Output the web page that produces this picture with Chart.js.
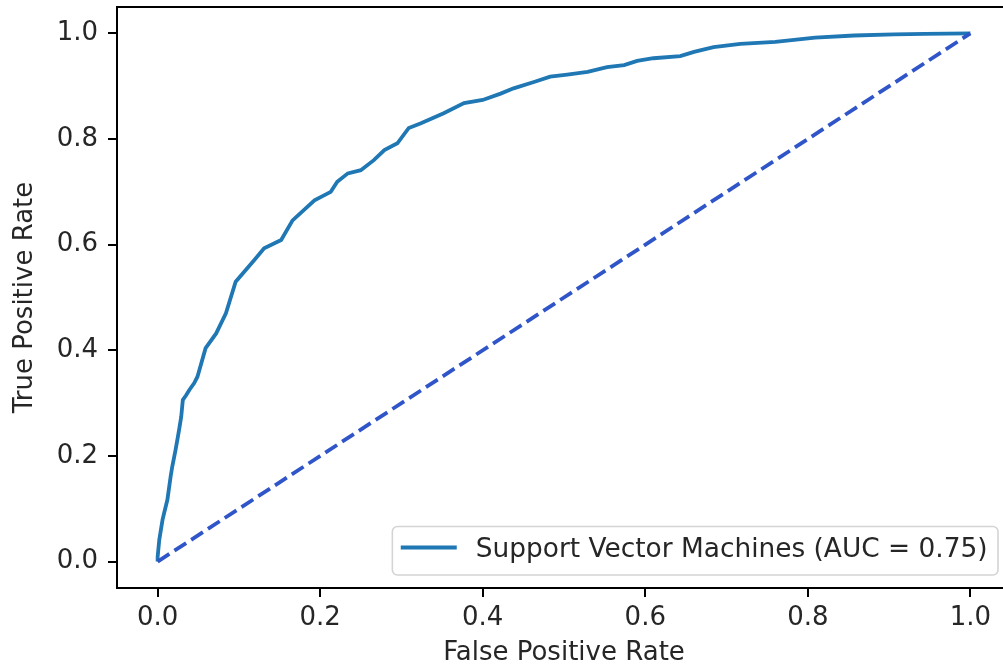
<!DOCTYPE html>
<html>
<head>
<meta charset="utf-8">
<script src="https://cdn.jsdelivr.net/npm/chart.js@4/dist/chart.umd.min.js"></script>
<style>
  html, body { margin: 0; padding: 0; background: #fff; overflow: hidden; }
  #wrap { width: 1011px; height: 670px; }
</style>
</head>
<body>
<div id="wrap"><canvas id="roc" width="1011" height="670"></canvas></div>
<script>
// ROC curve of the SVM classifier
const fpr = [0.000, 0.000, 0.002, 0.006, 0.008, 0.012, 0.016, 0.018, 0.022, 0.025,
             0.027, 0.029, 0.031, 0.035, 0.039, 0.045, 0.049, 0.059, 0.072, 0.084,
             0.096, 0.119, 0.131, 0.152, 0.166, 0.193, 0.213, 0.221, 0.234, 0.250,
             0.266, 0.279, 0.295, 0.309, 0.324, 0.352, 0.377, 0.400, 0.422, 0.438,
             0.463, 0.483, 0.504, 0.529, 0.553, 0.574, 0.590, 0.610, 0.643, 0.660,
             0.684, 0.717, 0.760, 0.809, 0.857, 0.906, 0.944, 1.000];
const tpr = [0.000, 0.009, 0.041, 0.079, 0.092, 0.117, 0.161, 0.180, 0.211, 0.237,
             0.255, 0.274, 0.306, 0.315, 0.325, 0.338, 0.350, 0.404, 0.432, 0.470,
             0.530, 0.571, 0.593, 0.609, 0.646, 0.684, 0.700, 0.719, 0.735, 0.741,
             0.760, 0.779, 0.792, 0.821, 0.830, 0.849, 0.868, 0.874, 0.886, 0.896,
             0.908, 0.918, 0.922, 0.927, 0.936, 0.940, 0.948, 0.953, 0.957, 0.965,
             0.974, 0.980, 0.984, 0.992, 0.996, 0.998, 0.999, 1.000];
// chance line
const chanceX = [0, 1];
const chanceY = [0, 1];
const tickValues = [0.0, 0.2, 0.4, 0.6, 0.8, 1.0];
const seriesLabel = 'Support Vector Machines (AUC = 0.75)';
const xTitle = 'False Positive Rate';
const yTitle = 'True Positive Rate';

const FONT = '"DejaVu Sans", sans-serif';
const TEXT = '#262626';

const toPoints = (xs, ys) => xs.map((x, i) => ({ x, y: ys[i] }));

// top and right spines
const frame = {
  id: 'frame',
  afterDatasetsDraw(chart) {
    const { ctx, chartArea: a } = chart;
    ctx.save();
    ctx.strokeStyle = '#000';
    ctx.lineWidth = 2;
    ctx.beginPath();
    ctx.moveTo(a.left - 1, a.top);
    ctx.lineTo(a.right, a.top);
    ctx.lineTo(a.right, a.bottom + 1);
    ctx.stroke();
    ctx.restore();
  }
};

// boxed legend in the lower right corner of the axes
const boxLegend = {
  id: 'boxLegend',
  afterDraw(chart) {
    const { ctx, chartArea: a } = chart;
    const ds = chart.data.datasets[0];
    const fs = 26.4;
    ctx.save();
    ctx.font = fs + 'px ' + FONT;
    const tw = ctx.measureText(ds.label).width;
    const pad = 10.4, handle = 56, gap = 17;
    const w = pad * 2 + handle + gap + tw;
    const h = 48.5;
    const right = a.right - 13, bottom = a.bottom - 13;
    const left = right - w, top = bottom - h;
    ctx.beginPath();
    ctx.roundRect(left, top, w, h, 5);
    ctx.fillStyle = 'rgba(255,255,255,0.8)';
    ctx.fill();
    ctx.strokeStyle = '#d4d4d4';
    ctx.lineWidth = 1.6;
    ctx.stroke();
    ctx.strokeStyle = ds.borderColor;
    ctx.lineWidth = ds.borderWidth;
    ctx.beginPath();
    ctx.moveTo(left + pad - 2, top + 21);
    ctx.lineTo(left + pad + handle - 2, top + 21);
    ctx.stroke();
    ctx.fillStyle = TEXT;
    ctx.textBaseline = 'alphabetic';
    ctx.fillText(ds.label, left + pad + handle + gap, top + 30);
    ctx.restore();
  }
};

// no extra room around the axes for half-labels at the ends
function clearEndPadding(scale) {
  scale.paddingTop = 0;
  scale.paddingBottom = 0;
  scale.paddingLeft = 0;
  scale.paddingRight = 0;
}

const axisCommon = {
  type: 'linear',
  min: -0.05,
  max: 1.05,
  afterBuildTicks(scale) { scale.ticks = tickValues.map(v => ({ value: v })); },
  grid: { drawOnChartArea: false, drawTicks: true, tickLength: 9, color: '#000', lineWidth: 2 },
  border: { display: true, color: '#000', width: 2 },
};

new Chart(document.getElementById('roc'), {
  type: 'scatter',
  data: {
    datasets: [
      {
        label: seriesLabel,
        data: toPoints(fpr, tpr),
        showLine: true,
        borderColor: '#1f77b4',
        borderWidth: 3.8,
        pointRadius: 0,
        tension: 0,
        order: 1
      },
      {
        label: 'chance',
        data: toPoints(chanceX, chanceY),
        showLine: true,
        borderColor: '#2f55c8',
        borderWidth: 3.8,
        borderDash: [14, 6],
        pointRadius: 0,
        order: 0
      }
    ]
  },
  options: {
    responsive: false,
    animation: false,
    devicePixelRatio: 1,
    layout: { padding: { top: 7, left: 0, right: 0, bottom: 0 } },
    plugins: { legend: { display: false }, tooltip: { enabled: false } },
    scales: {
      x: Object.assign({}, axisCommon, {
        position: 'bottom',
        afterFit(scale) { scale.height = 82; clearEndPadding(scale); },
        ticks: {
          color: TEXT, padding: 6, maxRotation: 0, autoSkip: false,
          font: { family: FONT, size: 26 },
          callback: v => Number(v).toFixed(1)
        },
        title: {
          display: true, text: xTitle, color: TEXT,
          font: { family: FONT, size: 26, lineHeight: 1 },
          padding: { top: 0, bottom: 3.5 }
        }
      }),
      y: Object.assign({}, axisCommon, {
        position: 'left',
        afterFit(scale) { scale.width = 117; clearEndPadding(scale); },
        ticks: {
          color: TEXT, padding: 10, autoSkip: false,
          font: { family: FONT, size: 26 },
          callback: v => Number(v).toFixed(1)
        },
        title: {
          display: true, text: yTitle, color: TEXT,
          font: { family: FONT, size: 26, lineHeight: 1 },
          padding: { top: 12.5, bottom: 0 }
        }
      })
    }
  },
  plugins: [frame, boxLegend]
});
</script>
</body>
</html>
